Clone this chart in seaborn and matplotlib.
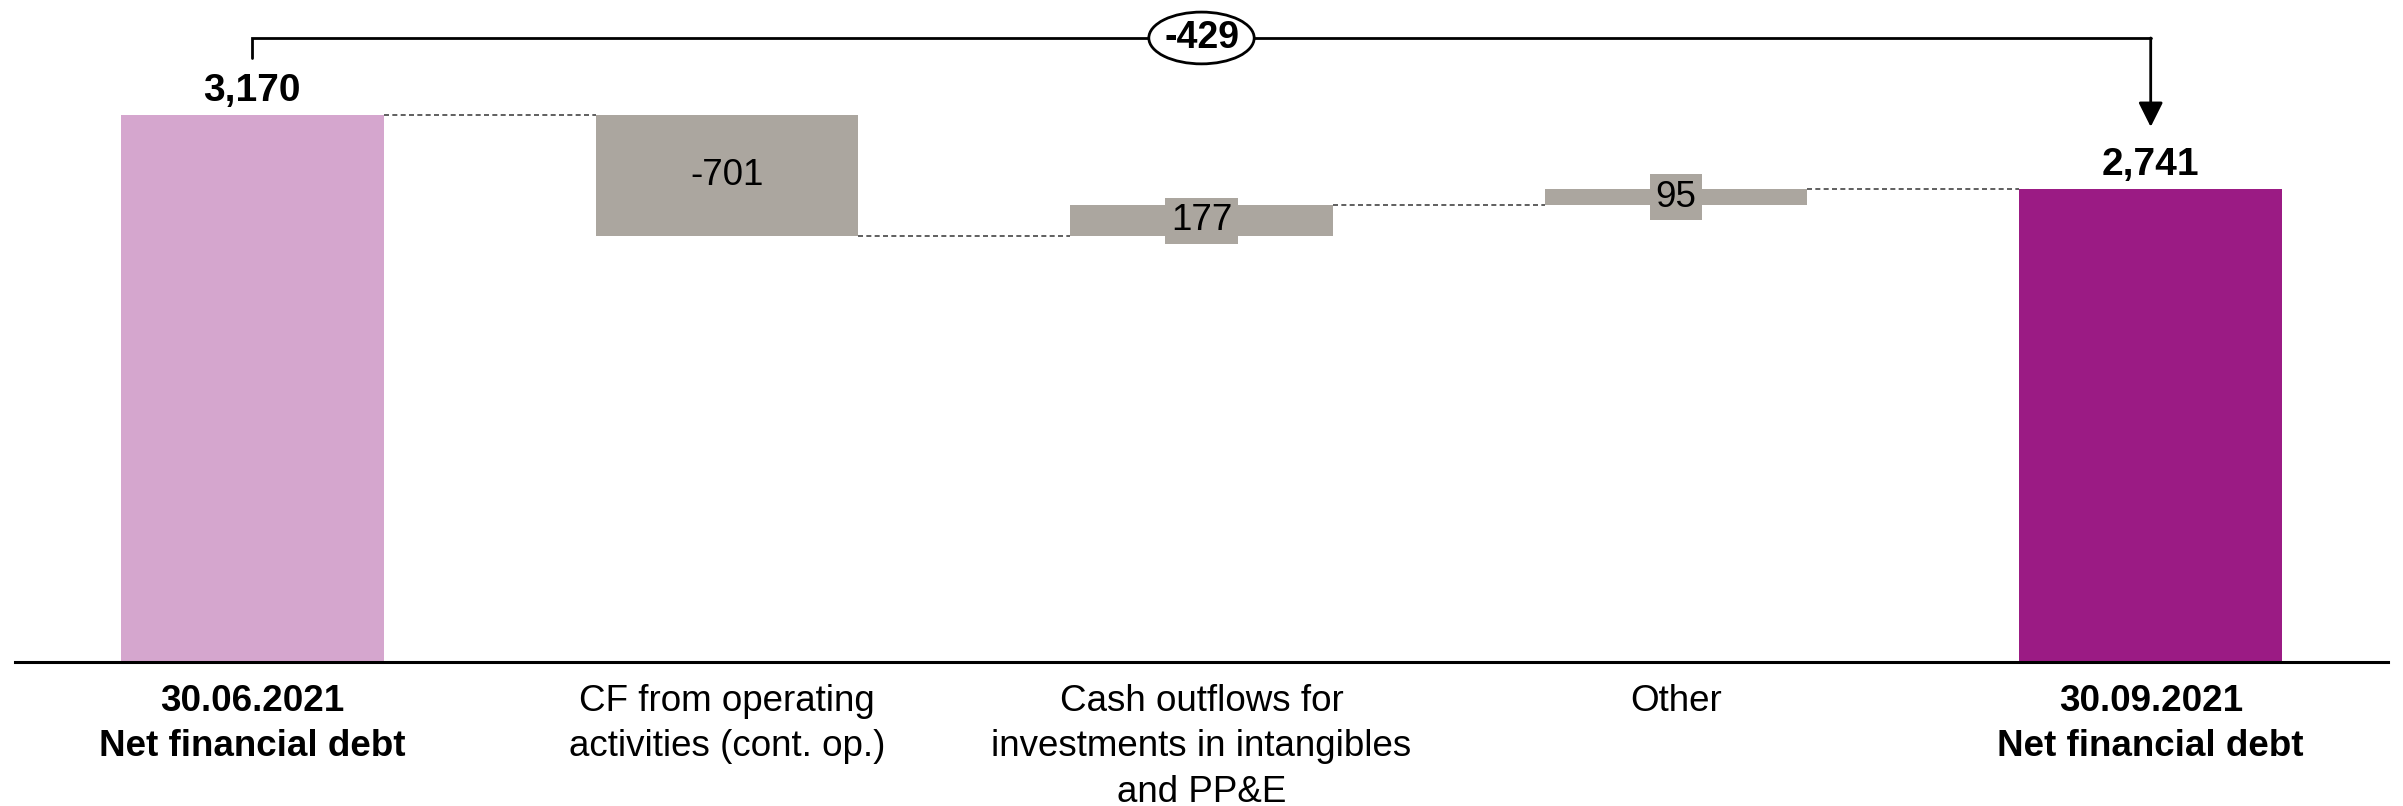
import matplotlib
matplotlib.use("Agg")
import matplotlib.pyplot as plt
from matplotlib.patches import Ellipse
import numpy as np
import pandas as pd
import seaborn as sns

categories = [
    "30.06.2021\nNet financial debt",
    "CF from operating\nactivities (cont. op.)",
    "Cash outflows for\ninvestments in intangibles\nand PP&E",
    "Other",
    "30.09.2021\nNet financial debt",
]
values = [3170, -701, 177, 95, 2741]
is_total = [True, False, False, False, True]
labels = ["3,170", "-701", "177", "95", "2,741"]
net_change = "-429"

PINK = "#D5A6CE"
GREY = "#ABA69F"
PURPLE = "#9B1B84"
bar_colors = [PINK, GREY, GREY, GREY, PURPLE]

# waterfall geometry: bottoms / spans
bottoms, spans, levels = [], [], []
running = 0
for v, tot in zip(values, is_total):
    if tot:
        bottoms.append(0)
        spans.append(v)
        running = v
    else:
        new = running + v
        bottoms.append(min(running, new))
        spans.append(abs(v))
        running = new
    levels.append(running)

df = pd.DataFrame({"category": categories, "span": spans})

sns.set_style("white")
plt.rcParams["font.family"] = ["Liberation Sans", "DejaVu Sans"]
plt.rcParams["text.color"] = "black"
plt.rcParams["xtick.color"] = "black"

fig = plt.figure(figsize=(24.03, 8.06), dpi=100)
ax = fig.add_axes([15 / 2403, 144 / 806, 2373 / 2403, 662 / 806])

width = 0.553
sns.barplot(data=df, x="category", y="span", bottom=bottoms, width=width,
            color=GREY, saturation=1, ax=ax, order=categories)
for patch, c in zip(ax.patches, bar_colors):
    patch.set_facecolor(c)
    patch.set_edgecolor("none")

ax.set_xlim(-0.5, 4.5)
ax.set_ylim(0, 3835)

# connectors
for i in range(len(values) - 1):
    ax.plot([i + width / 2, i + 1 - width / 2], [levels[i], levels[i]],
            ls=(0, (3, 2)), lw=1.2, color="#444444")

# labels
for i, (lab, tot) in enumerate(zip(labels, is_total)):
    if tot:
        ax.annotate(lab, (i, spans[i]), xytext=(0, 4), textcoords="offset points",
                    ha="center", va="bottom", fontsize=28, fontweight="bold")
    else:
        ax.text(i, bottoms[i] + spans[i] / 2, lab, ha="center", va="center",
                fontsize=26.5,
                bbox=dict(boxstyle="square,pad=0.15", fc=GREY, ec="none"))

# bracket showing net change
y_br = 3615
ax.plot([0, 0, 4], [3500, y_br, y_br], color="black", lw=2, solid_joinstyle="miter")
ax.annotate("", xy=(4, 3100), xytext=(4, y_br),
            arrowprops=dict(arrowstyle="-|>,head_length=0.6,head_width=0.3",
                            lw=2, color="black", shrinkA=0, shrinkB=0,
                            mutation_scale=25))
ax.add_patch(Ellipse((2, y_br), 0.222, 300, fc="white", ec="black", lw=2, zorder=5))
ax.text(2, y_br, net_change, ha="center", va="center", fontsize=27,
        fontweight="bold", zorder=6)

# axes styling
for s in ["top", "left", "right"]:
    ax.spines[s].set_visible(False)
ax.spines["bottom"].set_linewidth(2.2)
ax.spines["bottom"].set_color("black")
ax.set_yticks([])
ax.set_xlabel("")
ax.set_ylabel("")
ax.tick_params(axis="x", length=0, pad=16)
ax.set_xticks(range(len(categories)))
ax.set_xticklabels(categories, fontsize=26.5, linespacing=1.38)
for i, t in enumerate(ax.get_xticklabels()):
    if is_total[i]:
        t.set_fontweight("bold")

fig.savefig("out.png", dpi=100)
